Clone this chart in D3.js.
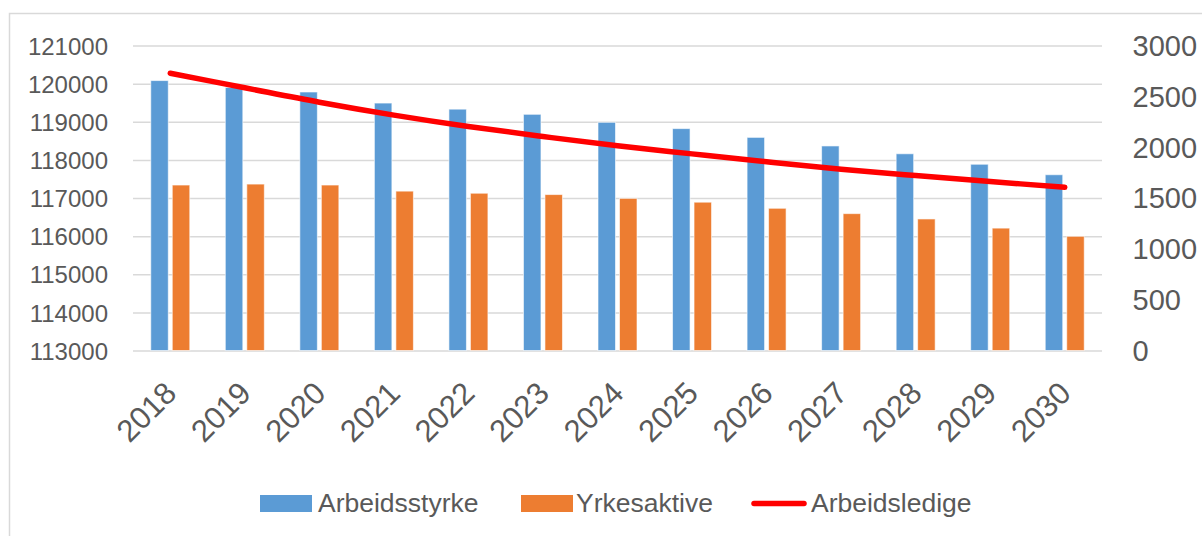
<!DOCTYPE html>
<html>
<head>
<meta charset="utf-8">
<script src="https://cdn.jsdelivr.net/npm/d3@7"></script>
<style>
  body { margin: 0; background: #fff; }
  svg { display: block; font-family: 'Liberation Sans', Arial, sans-serif; }
</style>
</head>
<body>
<svg id="chart"></svg>
<script>
const years = ['2018', '2019', '2020', '2021', '2022', '2023', '2024', '2025', '2026', '2027', '2028', '2029', '2030'];
const arbeidsstyrke = [120080, 119900, 119780, 119490, 119330, 119195, 118985, 118820, 118590, 118365, 118160, 117885, 117610];
const yrkesaktive = [117340, 117365, 117340, 117180, 117125, 117090, 116990, 116890, 116730, 116590, 116450, 116210, 115995];
const arbeidsledige = [2727, 2584, 2442, 2315, 2203, 2105, 2013, 1934, 1856, 1783, 1721, 1662, 1606];
const leftTicks = [113000, 114000, 115000, 116000, 117000, 118000, 119000, 120000, 121000];
const rightTicks = [0, 500, 1000, 1500, 2000, 2500, 3000];
const seriesNames = ['Arbeidsstyrke', 'Yrkesaktive', 'Arbeidsledige'];

const width = 1202;
const height = 536;
const plot = { left: 133, right: 1102, top: 45.5, bottom: 350.5 };
const colors = { blue: '#5B9BD5', orange: '#ED7D31', red: '#FF0000', grid: '#D9D9D9', text: '#595959' };

const svg = d3.select('#chart')
  .attr('width', width)
  .attr('height', height);

// Chart border
svg.append('rect')
  .attr('x', 9.5)
  .attr('y', 13.5)
  .attr('width', 1220)
  .attr('height', 560)
  .attr('fill', 'none')
  .attr('stroke', colors.grid)
  .attr('stroke-width', 1.5);

const x0 = d3.scaleBand()
  .domain(years)
  .range([plot.left, plot.right]);

const groupHalf = 19.5;
const x1 = d3.scaleBand()
  .domain(['a', 'y'])
  .range([x0.bandwidth() / 2 - groupHalf, x0.bandwidth() / 2 + groupHalf])
  .paddingInner(0.186);

const yLeft = d3.scaleLinear()
  .domain([113000, 121000])
  .range([plot.bottom, plot.top]);

const yRight = d3.scaleLinear()
  .domain([0, 3000])
  .range([plot.bottom, plot.top]);

// Gridlines + left axis
const leftAxis = svg.append('g')
  .attr('transform', `translate(${plot.left},0)`)
  .call(d3.axisLeft(yLeft).tickValues(leftTicks).tickSize(-(plot.right - plot.left)).tickPadding(25).tickFormat(d3.format('d')));

leftAxis.select('.domain').remove();
leftAxis.selectAll('line').attr('stroke', colors.grid).attr('stroke-width', 1.5);
leftAxis.selectAll('text')
  .attr('fill', colors.text)
  .attr('font-size', 24)
  .attr('dy', '0.36em');

// Right axis
const rightAxis = svg.append('g')
  .attr('transform', `translate(${plot.right},0)`)
  .call(d3.axisRight(yRight).tickValues(rightTicks).tickSize(0).tickPadding(30.5).tickFormat(d3.format('d')));

rightAxis.select('.domain').remove();
rightAxis.selectAll('text')
  .attr('fill', colors.text)
  .attr('font-size', 29)
  .attr('dy', '0.34em');

// X labels
svg.append('g')
  .selectAll('text')
  .data(years)
  .enter()
  .append('text')
  .attr('transform', d => `translate(${x0(d) + x0.bandwidth() / 2 + 8},395) rotate(-45)`)
  .attr('text-anchor', 'end')
  .attr('fill', colors.text)
  .attr('font-size', 31)
  .text(d => d);

// Bars
const bars = svg.append('g')
  .selectAll('g')
  .data(years)
  .enter()
  .append('g')
  .attr('transform', d => `translate(${x0(d)},0)`);

bars.append('rect')
  .attr('x', x1('a'))
  .attr('y', (d, i) => yLeft(arbeidsstyrke[i]))
  .attr('width', x1.bandwidth())
  .attr('height', (d, i) => plot.bottom - yLeft(arbeidsstyrke[i]))
  .attr('fill', colors.blue)
  .attr('stroke', 'rgba(255,255,255,0.6)')
  .attr('stroke-width', 1);

bars.append('rect')
  .attr('x', x1('y'))
  .attr('y', (d, i) => yLeft(yrkesaktive[i]))
  .attr('width', x1.bandwidth())
  .attr('height', (d, i) => plot.bottom - yLeft(yrkesaktive[i]))
  .attr('fill', colors.orange)
  .attr('stroke', 'rgba(255,255,255,0.6)')
  .attr('stroke-width', 1);

// Line (secondary axis)
const line = d3.line()
  .x((d, i) => x0(years[i]) + x0.bandwidth() / 2)
  .y(d => yRight(d))
  .curve(d3.curveCatmullRom.alpha(0.5));

svg.append('path')
  .datum(arbeidsledige)
  .attr('d', line)
  .attr('fill', 'none')
  .attr('stroke', colors.red)
  .attr('stroke-width', 5.5)
  .attr('stroke-linecap', 'round');

// Legend
const legend = svg.append('g');

legend.append('rect')
  .attr('x', 260).attr('y', 495).attr('width', 52).attr('height', 17)
  .attr('fill', colors.blue);

legend.append('rect')
  .attr('x', 521).attr('y', 495).attr('width', 52).attr('height', 17)
  .attr('fill', colors.orange);

legend.append('line')
  .attr('x1', 754).attr('x2', 804).attr('y1', 503.5).attr('y2', 503.5)
  .attr('stroke', colors.red)
  .attr('stroke-width', 5.5)
  .attr('stroke-linecap', 'round');

legend.selectAll('text')
  .data(seriesNames)
  .enter()
  .append('text')
  .attr('x', (d, i) => [318, 576, 811][i])
  .attr('y', 512)
  .attr('fill', colors.text)
  .attr('font-size', 26.5)
  .text(d => d);
</script>
</body>
</html>
